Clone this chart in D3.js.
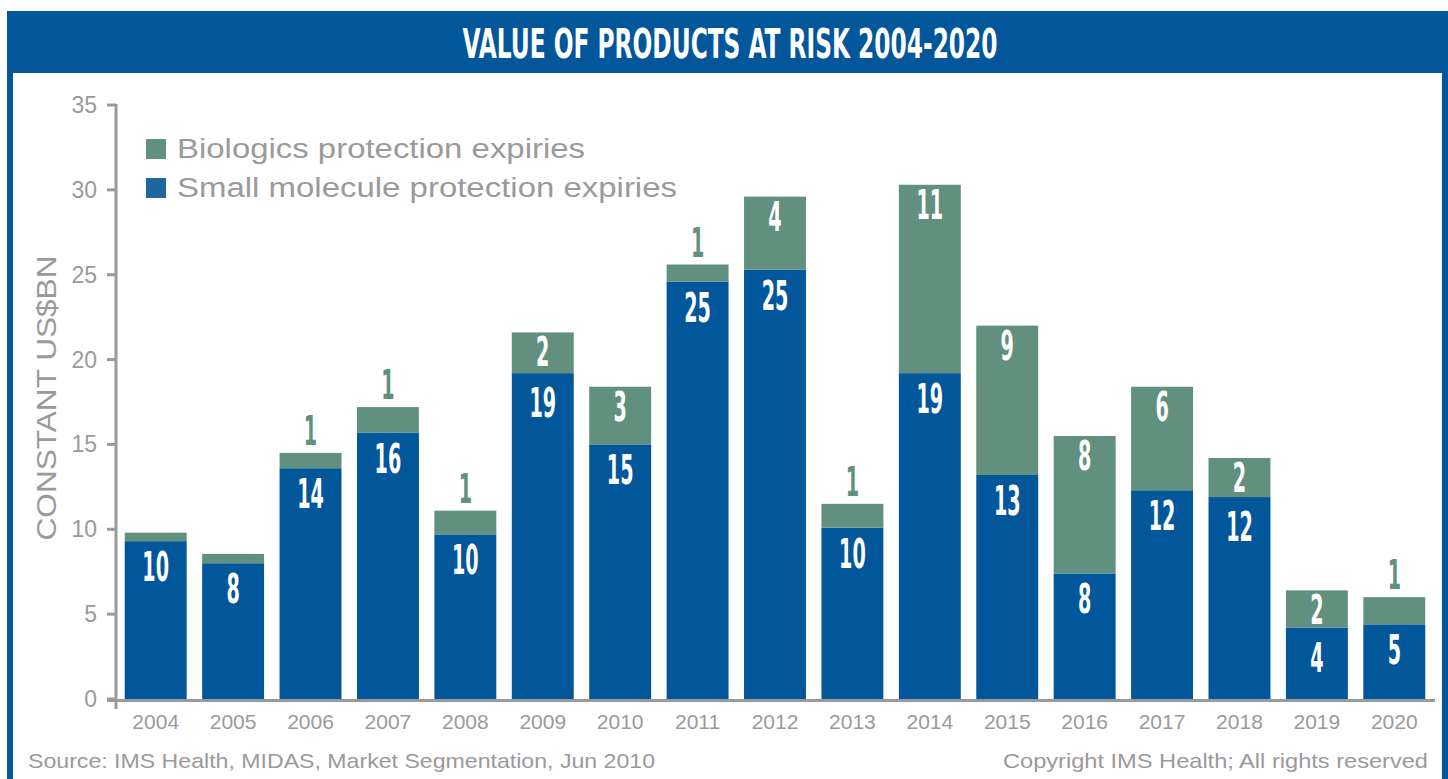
<!DOCTYPE html>
<html>
<head>
<meta charset="utf-8">
<script src="https://cdn.jsdelivr.net/npm/d3@7"></script>
<style>
  body { margin: 0; background: #fff; }
  svg { display: block; }
</style>
</head>
<body>
<div id="chart"></div>
<script>
// data
const years = ["2004","2005","2006","2007","2008","2009","2010","2011","2012","2013","2014","2015","2016","2017","2018","2019","2020"];
const smallValues = [9.3, 8.0, 13.6, 15.7, 9.7, 19.2, 15.0, 24.6, 25.3, 10.1, 19.2, 13.2, 7.4, 12.3, 11.9, 4.2, 4.4];
const bioValues   = [0.5, 0.55, 0.9, 1.5, 1.4, 2.4, 3.4, 1.0, 4.3, 1.4, 11.1, 8.8, 8.1, 6.1, 2.3, 2.2, 1.6];
const smallLabels = ["10","8","14","16","10","19","15","25","25","10","19","13","8","12","12","4","5"];
const bioLabels   = ["","","1","1","1","2","3","1","4","1","11","9","8","6","2","2","1"];
const yTicks = [0, 5, 10, 15, 20, 25, 30, 35];
const legendItems = ["Biologics protection expiries", "Small molecule protection expiries"];

const W = 1448, H = 779;
const blue = "#02569a", green = "#62907f", legendBlue = "#1f66a3", grey = "#9a9a9a";
const sansFont = "'Liberation Sans', Arial, sans-serif";
const condFont = "'DejaVu Sans Condensed', 'DejaVu Sans', sans-serif";

const svg = d3.select("#chart").append("svg")
    .attr("width", W)
    .attr("height", H);

// frame + header
svg.append("rect").attr("x", 7).attr("y", 11).attr("width", W - 7).attr("height", 62).attr("fill", blue);
svg.append("rect").attr("x", 7).attr("y", 11).attr("width", 6).attr("height", H - 11).attr("fill", blue);
svg.append("rect").attr("x", 1442).attr("y", 11).attr("width", 6).attr("height", H - 11).attr("fill", blue);

svg.append("text")
    .attr("x", 730).attr("y", 58)
    .attr("text-anchor", "middle")
    .attr("textLength", 535)
    .attr("lengthAdjust", "spacingAndGlyphs")
    .style("font-family", condFont)
    .style("font-weight", "bold")
    .style("font-size", "41px")
    .attr("fill", "#fff")
    .text("VALUE OF PRODUCTS AT RISK 2004-2020");

// scales
let x = d3.scaleBand()
    .domain(years)
    .range([117, 1433])
    .paddingInner(0.2)
    .paddingOuter(0.1);

let y = d3.scaleLinear()
    .domain([0, 35])
    .range([699, 105]);

// y axis
svg.append("line")
    .attr("x1", 116).attr("x2", 116)
    .attr("y1", y(35) - 1).attr("y2", 709)
    .attr("stroke", grey).attr("stroke-width", 3);

let yAxis = svg.append("g").selectAll("g")
    .data(yTicks)
    .enter().append("g");

yAxis.append("line")
    .attr("x1", 107).attr("x2", 116)
    .attr("y1", d => y(d)).attr("y2", d => y(d))
    .attr("stroke", grey).attr("stroke-width", 3);

yAxis.append("text")
    .attr("x", 97)
    .attr("y", d => y(d) + 8)
    .attr("text-anchor", "end")
    .style("font-family", sansFont)
    .style("font-size", "23px")
    .attr("fill", grey)
    .text(d => d);

svg.append("text")
    .attr("transform", "translate(56,398) rotate(-90)")
    .attr("text-anchor", "middle")
    .attr("textLength", 285)
    .attr("lengthAdjust", "spacingAndGlyphs")
    .style("font-family", sansFont)
    .style("font-size", "28px")
    .attr("fill", grey)
    .text("CONSTANT US$BN");

// stacked bars
let bars = svg.append("g").selectAll("g")
    .data(years)
    .enter().append("g");

bars.append("rect")
    .attr("x", d => x(d))
    .attr("width", x.bandwidth())
    .attr("y", (d, i) => y(smallValues[i]))
    .attr("height", (d, i) => y(0) - y(smallValues[i]))
    .attr("fill", blue);

bars.append("rect")
    .attr("x", d => x(d))
    .attr("width", x.bandwidth())
    .attr("y", (d, i) => y(smallValues[i] + bioValues[i]))
    .attr("height", (d, i) => y(smallValues[i]) - y(smallValues[i] + bioValues[i]))
    .attr("fill", green);

// x axis
svg.append("line")
    .attr("x1", 107).attr("x2", 1435)
    .attr("y1", 700.5).attr("y2", 700.5)
    .attr("stroke", grey).attr("stroke-width", 3);

svg.append("g").selectAll("text")
    .data(years)
    .enter().append("text")
    .attr("x", d => x(d) + x.bandwidth() / 2)
    .attr("y", 729)
    .attr("text-anchor", "middle")
    .style("font-family", sansFont)
    .style("font-size", "21px")
    .attr("fill", grey)
    .text(d => d);

// value labels (condensed look by horizontal squeeze)
function valueLabel(cx, cy, txt, col) {
    svg.append("text")
        .attr("transform", "translate(" + cx + "," + cy + ") scale(0.52,1)")
        .attr("text-anchor", "middle")
        .style("font-family", condFont)
        .style("font-weight", "bold")
        .style("font-size", "41px")
        .attr("fill", col)
        .text(txt);
}

years.forEach((d, i) => {
    let cx = x(d) + x.bandwidth() / 2;
    let top = y(smallValues[i] + bioValues[i]);
    let segH = y(smallValues[i]) - top;
    let inside = bioLabels[i] !== "" && segH > 32;
    // small molecule label sits a bit lower when a label is just above it
    let offset = inside && segH < 45 ? 44 : 40;
    valueLabel(cx, y(smallValues[i]) + offset, smallLabels[i], "#fff");
    if (bioLabels[i] === "") return;
    if (inside) {
        valueLabel(cx, top + 34, bioLabels[i], "#fff");
    } else {
        valueLabel(cx, top - 8, bioLabels[i], green);
    }
});

// legend
const legendWidths = [408, 500];
let legend = svg.append("g").selectAll("g")
    .data(legendItems)
    .enter().append("g")
    .attr("transform", (d, i) => "translate(146," + (139 + i * 39) + ")");

legend.append("rect")
    .attr("width", 20).attr("height", 20)
    .attr("fill", (d, i) => i === 0 ? green : legendBlue);

legend.append("text")
    .attr("x", 31).attr("y", 19)
    .attr("textLength", (d, i) => legendWidths[i])
    .attr("lengthAdjust", "spacingAndGlyphs")
    .style("font-family", sansFont)
    .style("font-size", "27px")
    .attr("fill", grey)
    .text(d => d);

// footer
svg.append("text")
    .attr("x", 28).attr("y", 768)
    .attr("textLength", 627)
    .attr("lengthAdjust", "spacingAndGlyphs")
    .style("font-family", sansFont)
    .style("font-size", "21px")
    .attr("fill", grey)
    .text("Source: IMS Health, MIDAS, Market Segmentation, Jun 2010");

svg.append("text")
    .attr("x", 1428).attr("y", 768)
    .attr("text-anchor", "end")
    .attr("textLength", 425)
    .attr("lengthAdjust", "spacingAndGlyphs")
    .style("font-family", sansFont)
    .style("font-size", "21px")
    .attr("fill", grey)
    .text("Copyright IMS Health; All rights reserved");
</script>
</body>
</html>
